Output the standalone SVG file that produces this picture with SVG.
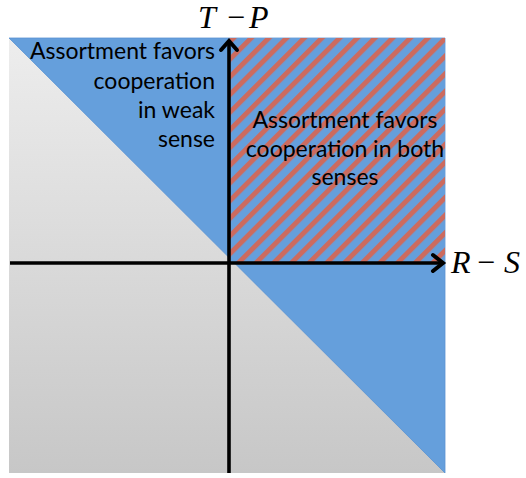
<svg xmlns="http://www.w3.org/2000/svg" width="526" height="478" viewBox="0 0 526 478">
  <style>
    .lbl { font-family: Lato, "Liberation Sans", sans-serif; font-size: 23px; fill: #000; }
    .math { font-family: "Liberation Serif", "Times New Roman", serif; font-size: 32px; fill: #000; }
    .axis { stroke: #000; stroke-width: 3.6; fill: none; }
    .head { stroke: #000; stroke-width: 4; fill: none; stroke-linecap: round; stroke-linejoin: miter; }
  </style>
  <defs>
    <linearGradient id="gray" x1="0" y1="38" x2="0" y2="473" gradientUnits="userSpaceOnUse">
      <stop offset="0" stop-color="#ededed"/>
      <stop offset="1" stop-color="#c7c7c7"/>
    </linearGradient>
    <pattern id="hatch" x="2" y="0" width="12.5" height="12.5" patternUnits="userSpaceOnUse" patternTransform="rotate(45)">
      <rect x="0" y="0" width="12.5" height="12.5" fill="#659fdc"/>
      <rect x="0" y="0" width="5" height="12.5" fill="#cc6b5f"/>
    </pattern>
  </defs>

  <g id="region-background">
    <rect x="9" y="38" width="436" height="435" fill="url(#gray)"/>
  </g>
  <g id="region-weak">
    <polygon points="9,38 445,38 445,473" fill="#659fdc" stroke="#5b93d2" stroke-width="0.8"/>
  </g>
  <g id="region-both">
    <rect x="229" y="38" width="216" height="225" fill="url(#hatch)"/>
  </g>

  <g id="axes">
    <line class="axis" x1="10" y1="263" x2="442" y2="263"/>
    <polyline class="head" points="433,255 443,263 433,271"/>
    <line class="axis" x1="229" y1="473" x2="229" y2="42"/>
    <polyline class="head" points="221,50 229,41 237,50"/>
  </g>

  <g id="label-weak">
    <text class="lbl" text-anchor="end" x="215" y="59">Assortment favors</text>
    <text class="lbl" text-anchor="end" x="215" y="89">cooperation</text>
    <text class="lbl" text-anchor="end" x="215" y="118">in weak</text>
    <text class="lbl" text-anchor="end" x="215" y="147">sense</text>
  </g>
  <g id="label-both">
    <text class="lbl" text-anchor="middle" x="345" y="128">Assortment favors</text>
    <text class="lbl" text-anchor="middle" x="345" y="157">cooperation in both</text>
    <text class="lbl" text-anchor="middle" x="345" y="185">senses</text>
  </g>
  <g id="label-y">
    <text class="math" y="28"><tspan x="198" font-style="italic">T</tspan><tspan x="227">−</tspan><tspan x="249" font-style="italic">P</tspan></text>
  </g>
  <g id="label-x">
    <text class="math" y="273"><tspan x="451" font-style="italic">R</tspan><tspan x="477">−</tspan><tspan x="504" font-style="italic">S</tspan></text>
  </g>
</svg>
